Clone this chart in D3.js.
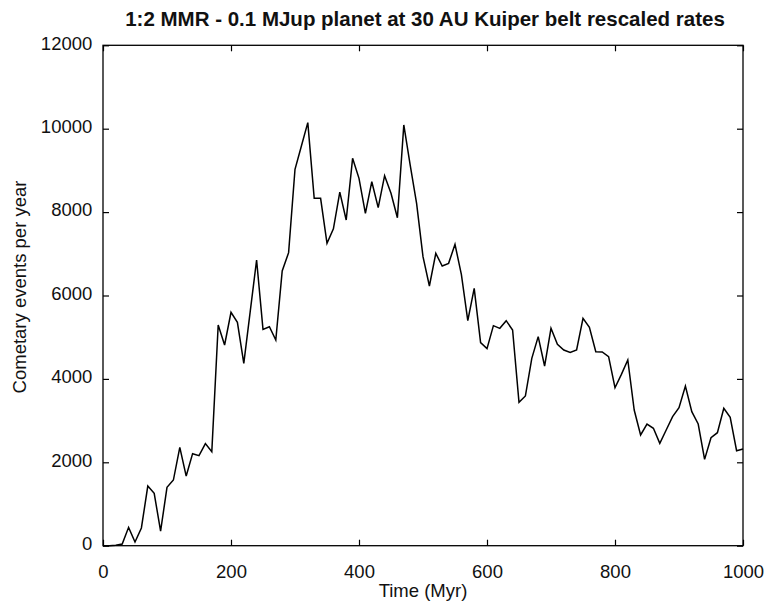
<!DOCTYPE html>
<html>
<head>
<meta charset="utf-8">
<script src="https://cdn.jsdelivr.net/npm/d3@7/dist/d3.min.js"></script>
<style>
  html, body { margin: 0; padding: 0; background: #fff; }
  svg { display: block; }
  text { font-family: "Liberation Sans", Arial, Helvetica, sans-serif; fill: #111; }
</style>
</head>
<body>
<svg id="chart" width="766" height="603"></svg>
<script>
const chartTitle = "1:2 MMR - 0.1 MJup planet at 30 AU Kuiper belt rescaled rates";
const xLabel = "Time (Myr)";
const yLabel = "Cometary events per year";
const xTicks = [0, 200, 400, 600, 800, 1000];
const yTicks = [0, 2000, 4000, 6000, 8000, 10000, 12000];
const times = [0,10,20,30,40,50,60,70,80,90,100,110,120,130,140,150,160,170,180,190,
  200,210,220,230,240,250,260,270,280,290,300,310,320,330,340,350,360,370,380,390,
  400,410,420,430,440,450,460,470,480,490,500,510,520,530,540,550,560,570,580,590,
  600,610,620,630,640,650,660,670,680,690,700,710,720,730,740,750,760,770,780,790,
  800,810,820,830,840,850,860,870,880,890,900,910,920,930,940,950,960,970,980,990,1000];
const rates = [0,0,10,40,440,90,425,1430,1255,350,1400,1575,2360,1670,2207,2160,2450,2255,5293,4813,
  5597,5357,4374,5612,6851,5189,5252,4933,6588,7027,9026,9585,10145,8330,8330,7251,7600,8480,7811,9290,
  8810,7971,8729,8106,8873,8450,7866,10089,9129,8211,6931,6228,7011,6707,6771,7227,6500,5396,6171,4869,
  4725,5277,5213,5396,5173,3438,3590,4493,5013,4309,5213,4829,4693,4637,4693,5452,5237,4653,4645,4533,
  3789,4110,4453,3254,2655,2918,2815,2455,2775,3094,3310,3830,3214,2918,2071,2590,2710,3295,3078,2278,2319];

const svg = d3.select("#chart");
const pL = 103, pR = 743, pT = 45.3, pB = 545.7;
const x = d3.scaleLinear().domain([0, 1000]).range([pL, pR]);
const y = d3.scaleLinear().domain([0, 12000]).range([pB, pT]);
const fs = 18.5;

// axes
const gx = svg.append("g").attr("transform", `translate(0,${pB})`)
  .call(d3.axisBottom(x).tickValues(xTicks).tickFormat(d3.format("d"))
    .tickSizeInner(-6).tickSizeOuter(0).tickPadding(19.5));
const gxt = svg.append("g").attr("transform", `translate(0,${pT})`)
  .call(d3.axisTop(x).tickValues(xTicks).tickFormat("")
    .tickSizeInner(-6).tickSizeOuter(0));
const gy = svg.append("g").attr("transform", `translate(${pL},0)`)
  .call(d3.axisLeft(y).tickValues(yTicks).tickFormat(d3.format("d"))
    .tickSizeInner(-6).tickSizeOuter(0).tickPadding(10.7));
const gyr = svg.append("g").attr("transform", `translate(${pR},0)`)
  .call(d3.axisRight(y).tickValues(yTicks).tickFormat("")
    .tickSizeInner(-6).tickSizeOuter(0));

[gx, gxt, gy, gyr].forEach(g => {
  g.select(".domain").remove();
  g.selectAll(".tick line").attr("stroke", "#000").attr("stroke-width", 1.2);
  g.selectAll(".tick text").attr("font-size", fs).attr("fill", "#111")
    .style("font-family", '"Liberation Sans", Arial, sans-serif');
});
gy.selectAll(".tick text").attr("dy", "0.2em");

// frame
svg.append("rect").attr("x", pL).attr("y", pT)
  .attr("width", pR - pL).attr("height", pB - pT)
  .attr("fill", "none").attr("stroke", "#000").attr("stroke-width", 1.3);

// line
const line = d3.line().x((d, i) => x(times[i])).y(d => y(d));
svg.append("path").datum(rates)
  .attr("d", line).attr("fill", "none")
  .attr("stroke", "#000").attr("stroke-width", 1.5).attr("stroke-linejoin", "miter");

// texts
svg.append("text").attr("x", (pL + pR) / 2 + 2).attr("y", 25.5)
  .attr("text-anchor", "middle").attr("font-size", 20.5).attr("font-weight", "bold")
  .text(chartTitle);
svg.append("text").attr("x", (pL + pR) / 2).attr("y", 596.7)
  .attr("text-anchor", "middle").attr("font-size", fs).text(xLabel);
svg.append("text").attr("transform", "translate(26,287) rotate(-90)")
  .attr("text-anchor", "middle").attr("font-size", fs).text(yLabel);
</script>
</body>
</html>
